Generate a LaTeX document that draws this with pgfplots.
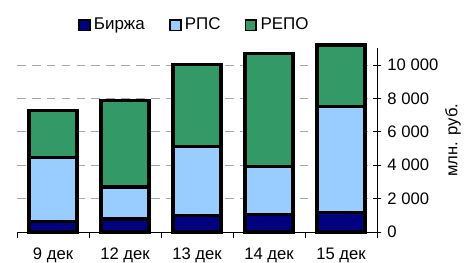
\documentclass[border=0pt]{standalone}
\usepackage{fontspec}
\setmainfont{Liberation Sans}
\usepackage{pgfplots}
\pgfplotsset{compat=1.18}
\definecolor{birzha}{HTML}{000080}
\definecolor{rps}{HTML}{99CCFF}
\definecolor{repo}{HTML}{339966}
\begin{document}
\begin{tikzpicture}
\begin{axis}[
  scale only axis,
  width=225pt, height=114.75pt,
  xmin=-0.5, xmax=4.5,
  ymin=0, ymax=11000,
  clip=false,
  ybar stacked,
  bar width=0.667,
  axis x line*=bottom,
  axis y line*=right,
  axis line style={black, line width=0.6pt},
  xtick={0,1,2,3,4},
  xticklabels={9 дек,12 дек,13 дек,14 дек,15 дек},
  major x tick style={draw=none},
  minor xtick={-0.5,0.5,1.5,2.5,3.5,4.5},
  minor x tick style={black, line width=0.6pt},
  minor tick length=3.5pt,
  xtick align=outside,
  ytick={0,2000,4000,6000,8000,10000},
  scaled y ticks=false,
  ytick align=center,
  major tick length=5pt,
  y tick style={black, line width=0.6pt},
  ymajorgrids,
  y grid style={gray!70, line width=0.6pt, dash pattern=on 5.4pt off 3.9pt},
  /pgf/number format/assume math mode=true,
  /pgf/number format/1000 sep={\ },
  yticklabel style={anchor=west, xshift=0.5pt, font=\fontsize{10.4}{12}\selectfont},
  xticklabel style={anchor=north, yshift=-1.5pt, font=\fontsize{10.4}{12}\selectfont},
  ylabel={млн. руб.},
  every axis y label/.style={at={(axis description cs:1,0.5)}, xshift=47.5pt, rotate=90, anchor=center, font=\fontsize{10.4}{12}\selectfont},
  legend columns=3,
  legend style={draw=none, fill=none, at={(0.494,1.127)}, anchor=center, font=\fontsize{10.6}{12}\selectfont,
    /tikz/every even column/.append style={column sep=13pt},
    /tikz/every odd column/.append style={column sep=0pt}},
  legend image code/.code={\draw[#1, line width=1.2pt] (0pt,-3.4pt) rectangle (6.8pt,3.4pt);},
]
\addplot[fill=birzha, draw=black, line width=2pt] coordinates {(0,620) (1,780) (2,1000) (3,1060) (4,1170)};
\addplot[fill=rps, draw=black, line width=2pt] coordinates {(0,3850) (1,1920) (2,4140) (3,2880) (4,6330)};
\addplot[fill=repo, draw=black, line width=2pt] coordinates {(0,2830) (1,5180) (2,4910) (3,6760) (4,3700)};
\legend{Биржа,РПС,РЕПО}
\end{axis}
\pgfresetboundingbox
\useasboundingbox (-10.625pt,-18.75pt) rectangle (284.375pt,145pt);
\end{tikzpicture}
\end{document}
